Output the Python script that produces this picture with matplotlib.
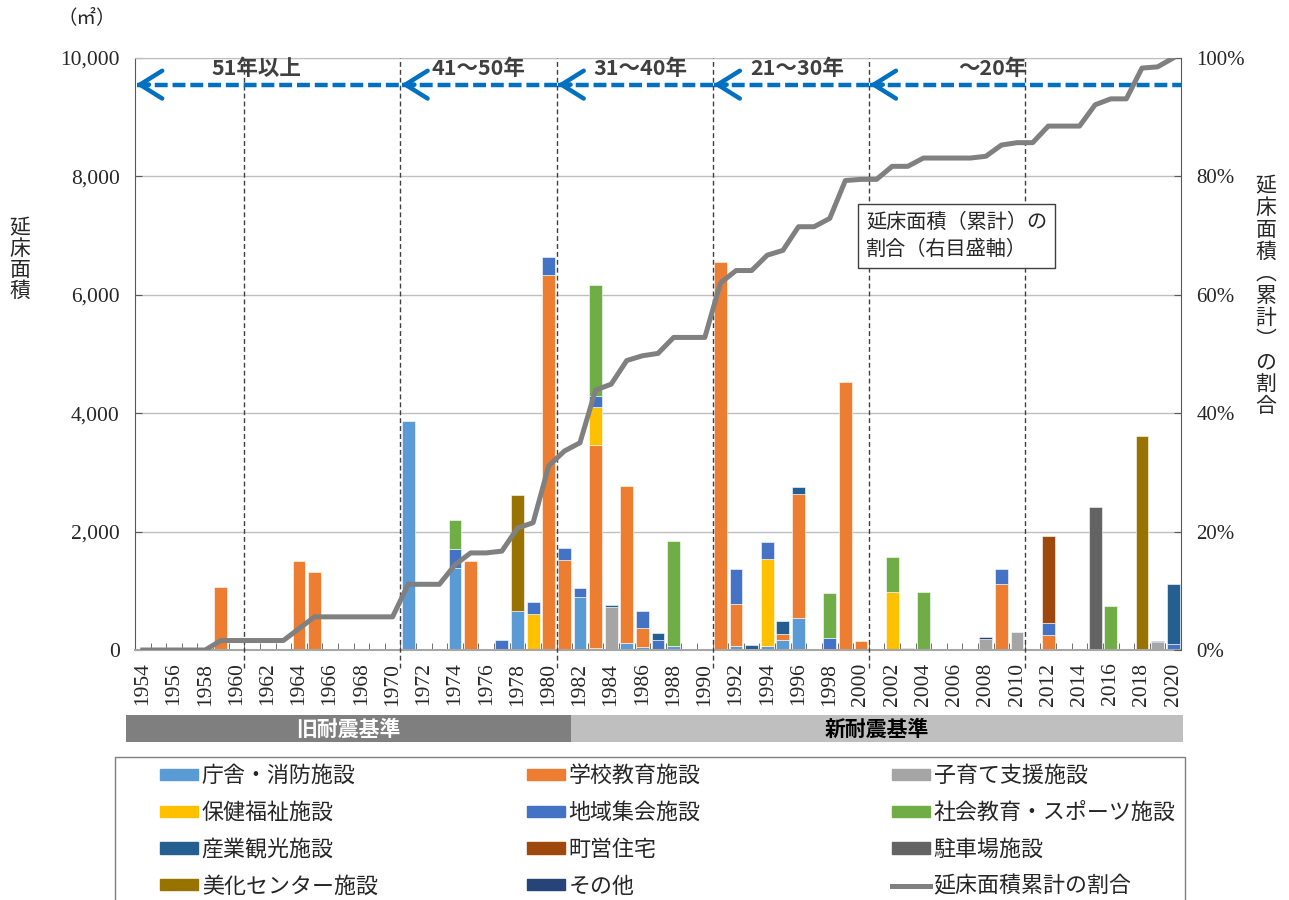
import numpy as np
import matplotlib
matplotlib.use("Agg")
import matplotlib.pyplot as plt
from matplotlib.patches import Rectangle, Patch
from matplotlib.lines import Line2D
from matplotlib.ticker import FixedLocator, FuncFormatter

plt.rcParams['font.family'] = ['Noto Sans CJK JP', 'DejaVu Sans']

# ---- data ----
years = list(range(1954, 2021))

names = ["庁舎・消防施設", "学校教育施設", "子育て支援施設", "保健福祉施設", "地域集会施設",
         "社会教育・スポーツ施設", "産業観光施設", "町営住宅", "駐車場施設", "美化センター施設", "その他"]
colors = ["#5B9BD5", "#ED7D31", "#A5A5A5", "#FFC000", "#4472C4",
          "#70AD47", "#255E91", "#9E480E", "#636363", "#997300", "#264478"]

# floor area by year (m2), 1954..2020
chosha = [0, 0, 0, 0, 0, 0, 0, 0, 0, 0,
          0, 0, 0, 0, 0, 0, 0, 3870, 0, 0,
          1390, 0, 0, 0, 660, 0, 0, 0, 890, 40,
          0, 110, 55, 0, 70, 0, 0, 0, 70, 0,
          70, 170, 535, 0, 0, 0, 0, 0, 0, 0,
          0, 0, 0, 0, 0, 0, 0, 0, 0, 0,
          0, 0, 0, 0, 0, 0, 0]
gakko = [20, 0, 0, 0, 0, 1065, 0, 0, 0, 0,
         1500, 1320, 0, 0, 0, 0, 0, 0, 0, 0,
         0, 1495, 0, 0, 0, 0, 6330, 1520, 0, 3420,
         0, 2660, 310, 0, 0, 0, 0, 6560, 715, 0,
         0, 100, 2100, 0, 0, 4530, 155, 0, 0, 0,
         0, 0, 0, 0, 0, 1115, 0, 0, 250, 0,
         0, 0, 0, 0, 0, 0, 0]
kosodate = [0] * 30 + [730] + [0] * 23 + [185, 0, 300] + [0] * 8 + [140, 0]
hoken = [0] * 25 + [600, 0, 0, 0, 640] + [0] * 10 + [1460] + [0] * 7 + [985] + [0] * 18
chiiki = [0, 0, 0, 0, 0, 0, 0, 0, 0, 0,
          0, 0, 0, 0, 0, 0, 0, 0, 0, 0,
          320, 0, 0, 165, 0, 210, 310, 210, 150, 195,
          0, 0, 300, 170, 0, 0, 0, 0, 590, 0,
          300, 0, 0, 0, 210, 0, 0, 0, 0, 0,
          0, 0, 0, 0, 0, 260, 0, 0, 200, 0,
          0, 0, 0, 0, 0, 0, 95]
shakai = [0] * 20 + [485] + [0] * 8 + [1870] + [0] * 4 + [1770] + [0] * 9 + [755] + [0] * 3 + \
         [580, 30, 975] + [0] * 11 + [745] + [0] * 4
sangyo = [0] * 30 + [30, 0, 0, 110] + [0] * 5 + [80, 0, 220, 125] + [0] * 23 + [1015]
choei = [0] * 58 + [1475] + [0] * 8
chushajo = [0] * 61 + [2410] + [0] * 5
bika = [0] * 24 + [1960] + [0] * 39 + [3610, 0, 0]
sonota = [0] * 54 + [40] + [0] * 10 + [15, 0]

series = [chosha, gakko, kosodate, hoken, chiiki, shakai, sangyo, choei, chushajo, bika, sonota]

# cumulative share of floor area (%)
cum_share = [0, 0, 0, 0, 0, 1.6, 1.6, 1.6, 1.6, 1.6,
             3.6, 5.6, 5.6, 5.6, 5.6, 5.6, 5.6, 11.1, 11.1, 11.1,
             14.4, 16.4, 16.4, 16.7, 20.6, 21.5, 31.1, 33.6, 35.0, 43.9,
             44.9, 48.9, 49.7, 50.1, 52.8, 52.8, 52.8, 62.0, 64.1, 64.1,
             66.7, 67.5, 71.5, 71.5, 72.9, 79.3, 79.5, 79.5, 81.7, 81.7,
             83.1, 83.1, 83.1, 83.1, 83.4, 85.3, 85.7, 85.7, 88.5, 88.5,
             88.5, 92.1, 93.1, 93.1, 98.3, 98.5, 100.0]

period_labels = ["51年以上", "41～50年", "31～40年", "21～30年", "～20年"]
period_starts = [1954, 1971, 1981, 1991, 2001]
period_label_x = [7.3, 21.5, 31.9, 41.9, 54.4]
decade_lines = [1961, 1971, 1981, 1991, 2001, 2011]

W, H = 1289, 900
def fx(p):
    return p / W
def fy(p):
    return 1 - p / H

fig = plt.figure(figsize=(12.89, 9), dpi=100)
ax = fig.add_axes([fx(135), fy(650), fx(1181) - fx(135), fy(58) - fy(650)])
x = np.arange(len(years))

bottom = np.zeros(len(years))
for vals, c in zip(series, colors):
    v = np.array(vals, dtype=float)
    m = v > 0
    ax.bar(x[m], v[m], bottom=bottom[m], width=0.82, color=c,
           edgecolor='white', linewidth=0.4, zorder=2)
    bottom += v

ax.set_xlim(-0.5, len(years) - 0.5)
ax.set_ylim(0, 10000)
ax.yaxis.grid(True, color='#BFBFBF', lw=1)
ax.set_axisbelow(True)
ax.yaxis.set_major_locator(FixedLocator(range(0, 10001, 2000)))
ax.yaxis.set_major_formatter(FuncFormatter(lambda v, p: f"{int(v):,}"))
ax.tick_params(axis='y', direction='in', length=5, color='#595959', pad=11)
ax.set_xticks(x[::2])
ax.set_xticklabels([str(y) for y in years[::2]], rotation=90)
ax.set_xticks(np.arange(-0.5, len(years), 1), minor=True)
ax.tick_params(axis='x', which='major', length=0, pad=9)
ax.tick_params(axis='x', which='minor', direction='in', length=5, color='#595959')
for lab in ax.get_xticklabels() + ax.get_yticklabels():
    lab.set_fontfamily('Liberation Serif')
    lab.set_fontsize(15.5)
    lab.set_color('#262626')

ax.spines['top'].set_color('#BFBFBF')
ax.spines['left'].set_color('#595959')
ax.spines['bottom'].set_color('#A6A6A6')
ax.spines['bottom'].set_linewidth(1.5)
ax.spines['right'].set_visible(False)

# decade separators
for yr in decade_lines:
    ax.axvline(years.index(yr) - 0.5, ymin=-0.03, ymax=1, color='#404040', lw=1,
               dashes=(3.5, 2.2), clip_on=False, zorder=3)

# period arrows
bounds = [years.index(s) - 0.5 for s in period_starts] + [len(years) - 0.5]
ya = 9550
for i in range(len(period_starts)):
    x0, x1 = bounds[i], bounds[i + 1]
    ax.plot([x0 + 0.1, x1], [ya, ya], color='#0070C0', lw=3.2, dashes=(2.9, 1.1),
            solid_capstyle='butt', zorder=4)
    ax.annotate('', xy=(x0 + 0.05, ya), xytext=(x0 + 0.9, ya),
                arrowprops=dict(arrowstyle='->,head_length=0.8,head_width=0.5',
                                color='#0070C0', lw=3.2, mutation_scale=20,
                                shrinkA=0, shrinkB=0, capstyle='round'), zorder=4)
    ax.text(period_label_x[i], 9830, period_labels[i], ha='center', va='center',
            fontsize=15.5, fontweight='bold', color='#404040', zorder=5)

# cumulative line
ax2 = ax.twinx()
ax2.plot(x, cum_share, color='#808080', lw=3.6, zorder=5)
ax2.set_ylim(0, 100)
ax2.yaxis.set_major_locator(FixedLocator(range(0, 101, 20)))
ax2.yaxis.set_major_formatter(FuncFormatter(lambda v, p: f"{int(v)}%"))
ax2.tick_params(axis='y', direction='in', length=5, color='#595959', pad=11)
for lab in ax2.get_yticklabels():
    lab.set_fontfamily('Liberation Serif')
    lab.set_fontsize(15)
    lab.set_color('#262626')
for s in ['top', 'left', 'bottom']:
    ax2.spines[s].set_visible(False)
ax2.spines['right'].set_color('#595959')

# annotation box
fig.text(fx(866), fy(236), "延床面積（累計）の\n割合（右目盛軸）", fontsize=14.5, ha='left', va='center',
         linespacing=1.4, color='#262626',
         bbox=dict(boxstyle='square,pad=0.4', fc='white', ec='#404040', lw=1))

# axis titles
fig.text(fx(87), fy(18), "（㎡）", fontsize=14, ha='center', va='center', color='#262626')
for i, ch in enumerate("延床面積"):
    fig.text(fx(20), fy(228 + 21 * i), ch, fontsize=15, ha='center', va='center', color='#262626')
for i, ch in enumerate("延床面積︵累計︶の割合"):
    fig.text(fx(1266), fy(186 + 22 * i), ch, fontsize=15, ha='center', va='center', color='#262626')

# earthquake standard band
fig.add_artist(Rectangle((fx(126), fy(742)), fx(571) - fx(126), fy(715) - fy(742),
                         transform=fig.transFigure, fc='#7F7F7F', ec='none'))
fig.add_artist(Rectangle((fx(571), fy(742)), fx(1183) - fx(571), fy(715) - fy(742),
                         transform=fig.transFigure, fc='#BFBFBF', ec='none'))
fig.text(fx(348), fy(729), "旧耐震基準", fontsize=15, fontweight='bold', color='white',
         ha='center', va='center')
fig.text(fx(877), fy(729), "新耐震基準", fontsize=15, fontweight='bold', color='black',
         ha='center', va='center')

# legend
fig.add_artist(Rectangle((fx(115), fy(905)), fx(1185) - fx(115), fy(757) - fy(905),
                         transform=fig.transFigure, fc='white', ec='#7F7F7F', lw=1))
handles = [Patch(color=c) for c in colors] + [Line2D([], [], color='#808080', lw=3.6)]
labels = names + ["延床面積累計の割合"]
cols = [[0, 3, 6, 9], [1, 4, 7, 10], [2, 5, 8, 11]]
col_x = [160, 527, 892]
for cx, idx in zip(col_x, cols):
    leg = fig.legend([handles[i] for i in idx], [labels[i] for i in idx], loc='upper left',
                     bbox_to_anchor=(fx(cx), fy(765)), frameon=False, fontsize=15.8,
                     borderpad=0, borderaxespad=0, handlelength=1.75, handleheight=0.4,
                     handletextpad=0.15, labelspacing=0.68)
    for t in leg.get_texts():
        t.set_color('#262626')

fig.savefig("out.png", dpi=100)
